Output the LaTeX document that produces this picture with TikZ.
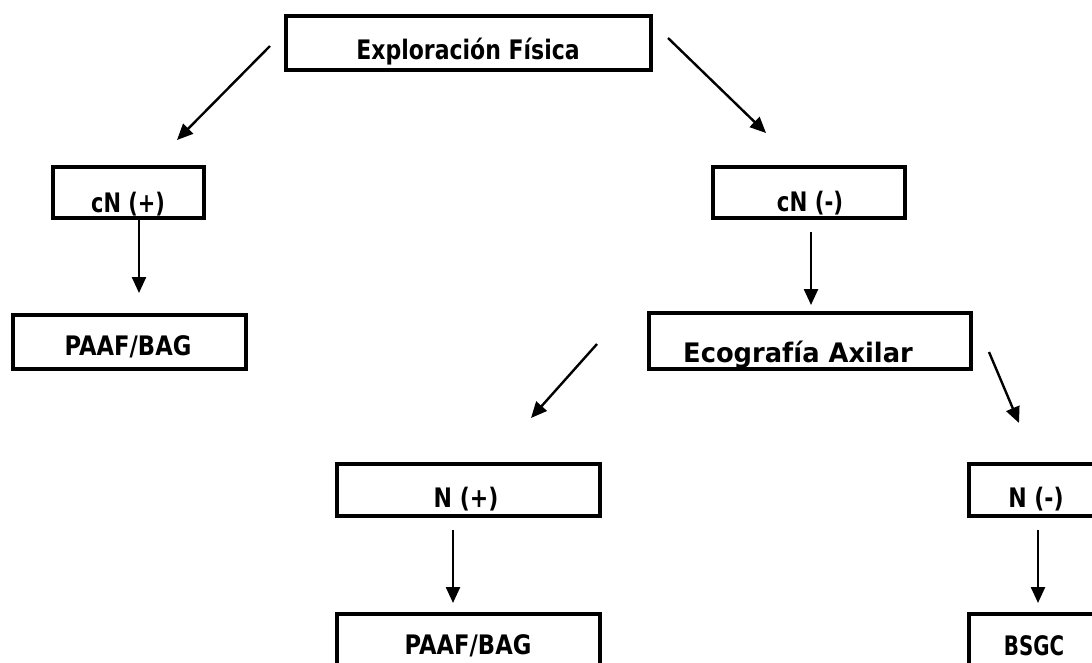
\documentclass[tikz,border=0pt]{standalone}
\usepackage{fontspec}
\setmainfont{DejaVu Sans}
\usetikzlibrary{arrows.meta}
\tikzset{
  box/.style={draw=black, line width=4pt, fill=none, inner sep=0pt, rectangle},
  lbl/.style={anchor=base, inner sep=0pt, font=\fontsize{22}{26}\selectfont\bfseries},
  conn/.style={line width=2.4pt, -{Triangle[length=16pt,width=14pt]}}
}
\newcommand{\tx}[2][1]{\scalebox{#1}[1.22]{#2}}
\begin{document}
\begin{tikzpicture}[x=1pt,y=-1pt]
\useasboundingbox (0,0) rectangle (1092,662);
\clip (0,0) rectangle (1092,662);
\fill[white] (0,0) rectangle (1092,662);

% boxes
\node[box, minimum width=365pt, minimum height=54pt] (ef) at (468.5,43) {};
\node[box, minimum width=151pt, minimum height=51pt] (cnp) at (128.5,192.5) {};
\node[box, minimum width=192pt, minimum height=51pt] (cnm) at (809,192.5) {};
\node[box, minimum width=233pt, minimum height=54pt] (paaf1) at (129.5,342) {};
\node[box, minimum width=322pt, minimum height=56pt] (eco) at (810,341) {};
\node[box, minimum width=263pt, minimum height=52pt] (np) at (468.5,490) {};
\node[box, minimum width=140pt, minimum height=52pt] (nm) at (1039,490) {};
\node[box, minimum width=263pt, minimum height=90pt] (paaf2) at (468.5,659) {};
\node[box, minimum width=140pt, minimum height=90pt] (bsgc) at (1039,659) {};

% texts
\node[lbl] (ef-t) at (468,59) {\tx{Exploración Física}};
\node[lbl] (cnp-t) at (128,212) {\tx[0.95]{cN (+)}};
\node[lbl] (cnm-t) at (810,211) {\tx[0.97]{cN (-)}};
\node[lbl] (paaf1-t) at (128,355) {\tx[1.03]{PAAF/BAG}};
\node[lbl] (eco-t) at (798,362) {\tx[1.17]{Ecografía Axilar}};
\node[lbl] (np-t) at (466,507) {\tx{N (+)}};
\node[lbl] (nm-t) at (1036,507) {\tx{N (-)}};
\node[lbl] (paaf2-t) at (468,654) {\tx[1.03]{PAAF/BAG}};
\node[lbl] (bsgc-t) at (1034,655) {\tx[0.9]{BSGC}};

% connector end points
\coordinate (a1s) at (270,46);   \coordinate (a1e) at (177,140);
\coordinate (a2s) at (668,38);   \coordinate (a2e) at (766,133);
\coordinate (a3s) at (139,218);  \coordinate (a3e) at (139,293);
\coordinate (a4s) at (811,232);  \coordinate (a4e) at (811,305);
\coordinate (a5s) at (597,344);  \coordinate (a5e) at (531,418);
\coordinate (a6s) at (989,352);  \coordinate (a6e) at (1019,423);
\coordinate (a7s) at (453,530);  \coordinate (a7e) at (453,603);
\coordinate (a8s) at (1038,530); \coordinate (a8e) at (1038,603);

\draw[conn] (a1s) -- (a1e);
\draw[conn] (a2s) -- (a2e);
\draw[conn] (a3s) -- (a3e);
\draw[conn] (a4s) -- (a4e);
\draw[conn] (a5s) -- (a5e);
\draw[conn] (a6s) -- (a6e);
\draw[conn] (a7s) -- (a7e);
\draw[conn] (a8s) -- (a8e);
\end{tikzpicture}
\end{document}
